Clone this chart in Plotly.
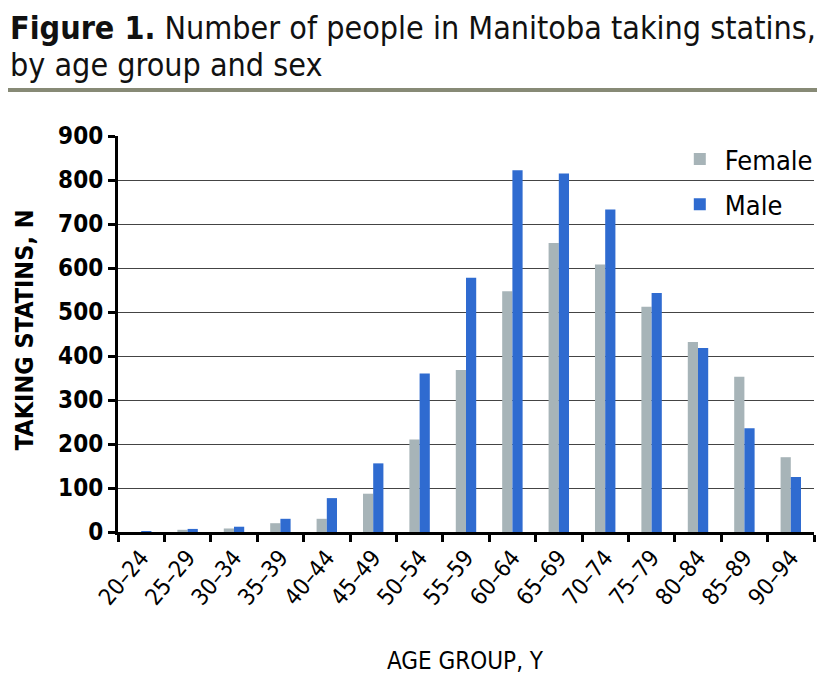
import plotly.graph_objects as go

age_groups = ["20–24", "25–29", "30–34", "35–39", "40–44", "45–49", "50–54", "55–59",
              "60–64", "65–69", "70–74", "75–79", "80–84", "85–89", "90–94"]
female = [0, 5, 8, 20, 30, 87, 210, 368, 547, 657, 608, 512, 432, 353, 170]
male = [1, 7, 12, 30, 77, 156, 360, 578, 822, 815, 733, 543, 418, 236, 125]
y_ticks = [0, 100, 200, 300, 400, 500, 600, 700, 800, 900]

FONT = "DejaVu Sans Condensed, Liberation Sans Narrow, Arial Narrow, sans-serif"

# page has an 8px body margin; work in page pixels and convert
OFF = 8
W, H = 825 - OFF, 679 - OFF
plot_left, plot_right, plot_top, plot_bottom = 118, 818, 136, 532  # page px
L = plot_left - OFF
R = W - (plot_right - OFF)
T = plot_top - OFF
B = H - (plot_bottom - OFF)
pw = W - L - R
ph = H - T - B


def px_x(x):
    return (x - OFF - L) / pw


def px_y(y):
    return (H - B - (y - OFF)) / ph


fig = go.Figure()
fig.add_trace(go.Bar(x=age_groups, y=female, name="Female", marker_color="#A7B4B8",
                     marker_line_width=0, legendgroup="f"))
fig.add_trace(go.Bar(x=age_groups, y=male, name="Male", marker_color="#2F6BD0",
                     marker_line_width=0, legendgroup="m"))

fig.update_layout(
    width=W, height=H,
    margin=dict(l=L, r=R, t=T, b=B),
    paper_bgcolor="white", plot_bgcolor="white",
    barmode="group", bargap=0.56, bargroupgap=0,
    font=dict(family=FONT, color="black"),
    legend=dict(
        x=px_x(678), y=px_y(135), xanchor="left", yanchor="top",
        bgcolor="rgba(0,0,0,0)", font=dict(size=27, family=FONT),
        tracegroupgap=7, traceorder="grouped", itemwidth=40,
    ),
    showlegend=True,
)

fig.update_xaxes(
    type="category", showline=True, linecolor="black", linewidth=3,
    ticks="outside", ticklen=7, tickwidth=3, tickcolor="black",
    tickson="boundaries", tickangle=-50,
    tickfont=dict(size=23, family=FONT),
    showgrid=False, zeroline=False,
)
fig.update_yaxes(
    range=[0, 900], tickvals=y_ticks, showline=True, linecolor="black", linewidth=3,
    ticks="outside", ticklen=7, tickwidth=3, tickcolor="black",
    tickfont=dict(size=24, family=FONT, weight="bold"),
    showgrid=True, gridcolor="#444444", gridwidth=1.3,
    zeroline=False,
)

# title lines
fig.add_annotation(text="<b>Figure 1.</b> Number of people in Manitoba taking statins,",
                   xref="paper", yref="paper", x=px_x(8), y=px_y(28),
                   xanchor="left", yanchor="middle", showarrow=False, borderpad=0,
                   font=dict(size=32, family=FONT, color="#111111"))
fig.add_annotation(text="by age group and sex",
                   xref="paper", yref="paper", x=px_x(8), y=px_y(65),
                   xanchor="left", yanchor="middle", showarrow=False, borderpad=0,
                   font=dict(size=32, family=FONT, color="#111111"))

# axis titles
fig.add_annotation(text="TAKING STATINS, N", textangle=-90,
                   xref="paper", yref="paper", x=px_x(8), y=px_y(330),
                   xanchor="left", yanchor="middle", showarrow=False, borderpad=0,
                   font=dict(size=25, family=FONT, weight="bold"))
fig.add_annotation(text="AGE GROUP, Y",
                   xref="paper", yref="paper", x=px_x(467), y=px_y(661),
                   xanchor="center", yanchor="middle", showarrow=False,
                   font=dict(size=24, family=FONT))

# horizontal rule under title
fig.add_shape(type="line", xref="paper", yref="paper",
              x0=px_x(0), x1=px_x(822), y0=px_y(90), y1=px_y(90),
              line=dict(color="#878A76", width=4))

fig.write_html("out.html")
